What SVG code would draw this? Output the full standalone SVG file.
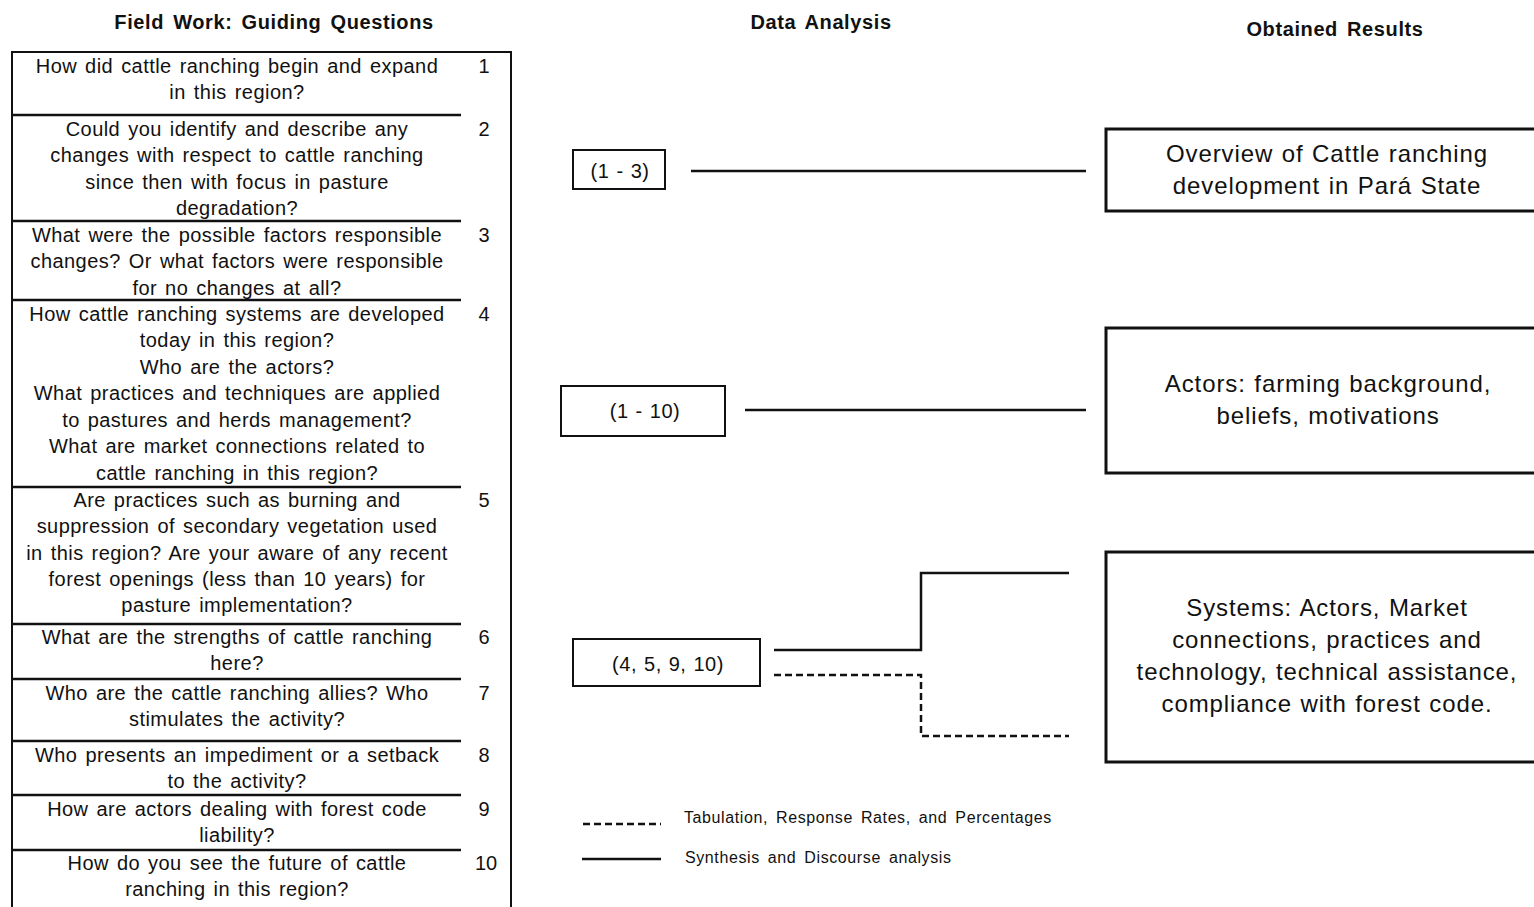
<svg xmlns="http://www.w3.org/2000/svg" width="1534" height="907" viewBox="0 0 1534 907">
<style>
text{font-family:"Liberation Sans",Arial,sans-serif;fill:#111}
.h{font-size:20px;font-weight:bold;text-anchor:middle;letter-spacing:0.6px;word-spacing:3px}
.q{font-size:20px;text-anchor:middle;letter-spacing:0.45px;word-spacing:2px}
.n{font-size:20px;text-anchor:middle}
.m{font-size:20px;text-anchor:middle;letter-spacing:0.5px;word-spacing:1px}
.r{font-size:24px;text-anchor:middle;letter-spacing:0.9px;word-spacing:1px}
.l{font-size:16px;letter-spacing:0.6px;word-spacing:3px}
.sep{stroke:#111;stroke-width:2.5}
.box{fill:#fff;stroke:#111;stroke-width:2}
.rbox{fill:#fff;stroke:#111;stroke-width:3}
.c{fill:none;stroke:#111;stroke-width:2.5}
.d{fill:none;stroke:#111;stroke-width:2.5;stroke-dasharray:7 4}
</style>
<rect width="1534" height="907" fill="#fff"/>
<text class="h" x="274" y="29">Field Work: Guiding Questions</text>
<text class="h" x="821" y="29">Data Analysis</text>
<text class="h" x="1335" y="36">Obtained Results</text>

<g id="questions">
<rect x="12" y="52" width="499" height="870" fill="none" stroke="#111" stroke-width="2"/>
<line class="sep" x1="12" y1="115" x2="461" y2="115"/>
<line class="sep" x1="12" y1="221" x2="461" y2="221"/>
<line class="sep" x1="12" y1="300" x2="461" y2="300"/>
<line class="sep" x1="12" y1="487" x2="461" y2="487"/>
<line class="sep" x1="12" y1="624" x2="461" y2="624"/>
<line class="sep" x1="12" y1="679" x2="461" y2="679"/>
<line class="sep" x1="12" y1="741" x2="461" y2="741"/>
<line class="sep" x1="12" y1="795" x2="461" y2="795"/>
<line class="sep" x1="12" y1="850" x2="461" y2="850"/>
<g id="q1"><text class="q" x="237" y="73">How did cattle ranching begin and expand</text><text class="q" x="237" y="99">in this region?</text><text class="n" x="484" y="73">1</text></g>
<g id="q2"><text class="q" x="237" y="136">Could you identify and describe any</text><text class="q" x="237" y="162">changes with respect to cattle ranching</text><text class="q" x="237" y="189">since then with focus in pasture</text><text class="q" x="237" y="215">degradation?</text><text class="n" x="484" y="136">2</text></g>
<g id="q3"><text class="q" x="237" y="242">What were the possible factors responsible</text><text class="q" x="237" y="268">changes? Or what factors were responsible</text><text class="q" x="237" y="295">for no changes at all?</text><text class="n" x="484" y="242">3</text></g>
<g id="q4"><text class="q" x="237" y="321">How cattle ranching systems are developed</text><text class="q" x="237" y="347">today in this region?</text><text class="q" x="237" y="374">Who are the actors?</text><text class="q" x="237" y="400">What practices and techniques are applied</text><text class="q" x="237" y="427">to pastures and herds management?</text><text class="q" x="237" y="453">What are market connections related to</text><text class="q" x="237" y="480">cattle ranching in this region?</text><text class="n" x="484" y="321">4</text></g>
<g id="q5"><text class="q" x="237" y="507">Are practices such as burning and</text><text class="q" x="237" y="533">suppression of secondary vegetation used</text><text class="q" x="237" y="560">in this region? Are your aware of any recent</text><text class="q" x="237" y="586">forest openings (less than 10 years) for</text><text class="q" x="237" y="612">pasture implementation?</text><text class="n" x="484" y="507">5</text></g>
<g id="q6"><text class="q" x="237" y="644">What are the strengths of cattle ranching</text><text class="q" x="237" y="670">here?</text><text class="n" x="484" y="644">6</text></g>
<g id="q7"><text class="q" x="237" y="700">Who are the cattle ranching allies? Who</text><text class="q" x="237" y="726">stimulates the activity?</text><text class="n" x="484" y="700">7</text></g>
<g id="q8"><text class="q" x="237" y="762">Who presents an impediment or a setback</text><text class="q" x="237" y="788">to the activity?</text><text class="n" x="484" y="762">8</text></g>
<g id="q9"><text class="q" x="237" y="816">How are actors dealing with forest code</text><text class="q" x="237" y="842">liability?</text><text class="n" x="484" y="816">9</text></g>
<g id="q10"><text class="q" x="237" y="870">How do you see the future of cattle</text><text class="q" x="237" y="896">ranching in this region?</text><text class="n" x="486" y="870">10</text></g>
</g>

<g id="a1"><rect class="box" x="573" y="150" width="92" height="39"/><text class="m" x="620" y="178">(1 - 3)</text></g>
<g id="a2"><rect class="box" x="561" y="386" width="164" height="50"/><text class="m" x="645" y="418">(1 - 10)</text></g>
<g id="a3"><rect class="box" x="573" y="639" width="187" height="47"/><text class="m" x="668" y="671">(4, 5, 9, 10)</text></g>

<g id="r1"><rect class="rbox" x="1106" y="129" width="440" height="82"/><text class="r" x="1327" y="162">Overview of Cattle ranching</text><text class="r" x="1327" y="194">development in Pará State</text></g>
<g id="r2"><rect class="rbox" x="1106" y="328" width="440" height="145"/><text class="r" x="1328" y="392">Actors: farming background,</text><text class="r" x="1328" y="424">beliefs, motivations</text></g>
<g id="r3"><rect class="rbox" x="1106" y="552" width="440" height="210"/><text class="r" x="1327" y="616">Systems: Actors, Market</text><text class="r" x="1327" y="648">connections, practices and</text><text class="r" x="1327" y="680">technology, technical assistance,</text><text class="r" x="1327" y="712">compliance with forest code.</text></g>

<g id="connectors">
<line class="c" x1="691" y1="171" x2="1086" y2="171"/>
<line class="c" x1="745" y1="410" x2="1086" y2="410"/>
<path class="c" d="M774 650 H921 V573 H1069"/>
<path class="d" d="M774 675 H921 V736 H1069"/>
</g>

<g id="legend">
<line class="d" x1="583" y1="824" x2="661" y2="824"/>
<text class="l" x="684" y="823">Tabulation, Response Rates, and Percentages</text>
<line class="c" x1="582" y1="859" x2="661" y2="859"/>
<text class="l" x="685" y="863">Synthesis and Discourse analysis</text>
</g>
</svg>
